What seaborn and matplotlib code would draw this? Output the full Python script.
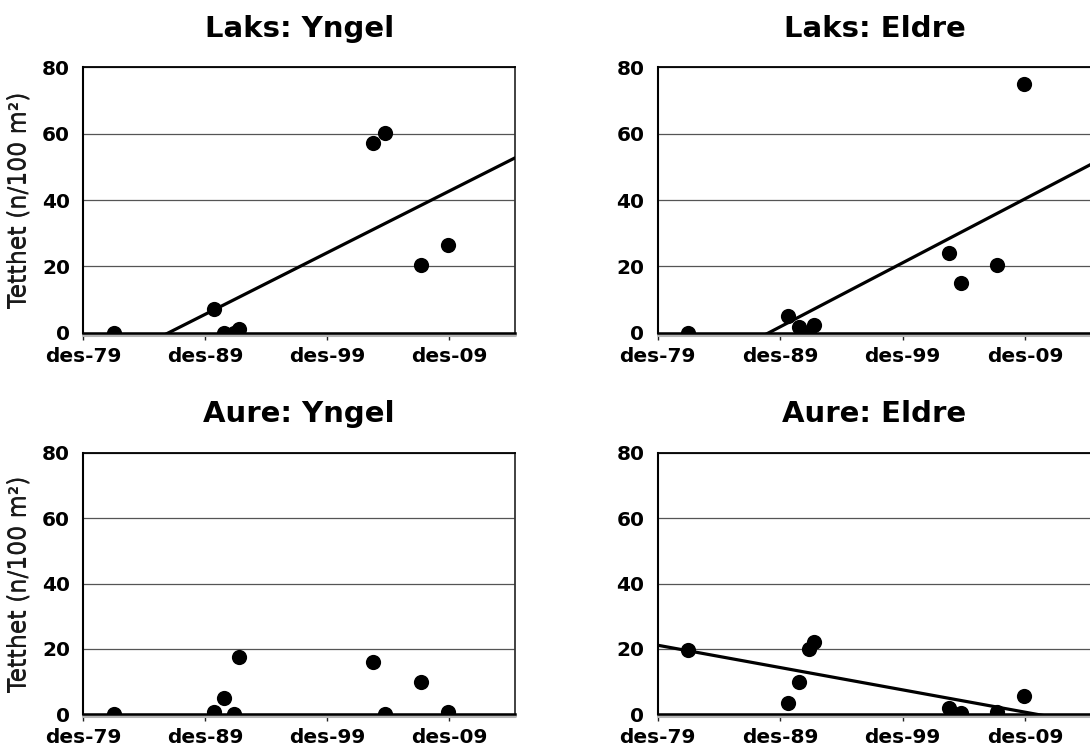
import numpy as np
import pandas as pd
import matplotlib
matplotlib.use("Agg")
import matplotlib.pyplot as plt
import matplotlib.transforms as mtransforms
import seaborn as sns

# ---- data ----
sample_years = [1982.4, 1990.6, 1991.5, 1992.3, 1992.7, 2003.7, 2004.7, 2007.6, 2009.8]
laks_yngel = [0, 7.0, 0, 0, 1.2, 57.3, 60.3, 20.3, 26.5]
laks_eldre = [0, 4.9, 1.6, 0.3, 2.4, 24.0, 14.9, 20.3, 75.0]
aure_yngel = [0, 0.7, 4.8, 0, 17.6, 15.8, 0, 9.7, 0.7]
aure_eldre = [19.7, 3.5, 9.8, 19.8, 22.1, 1.7, 0.2, 0.7, 5.5]

panel_titles = ["Laks: Yngel", "Laks: Eldre", "Aure: Yngel", "Aure: Eldre"]
panel_values = [laks_yngel, laks_eldre, aure_yngel, aure_eldre]
show_trend = [True, True, False, True]
x_tick_pos = [1979.92, 1989.92, 1999.92, 2009.92]
x_tick_labels = ["des-79", "des-89", "des-99", "des-09"]
y_ticks = [0, 20, 40, 60, 80]
y_label = "Tetthet (n/100 m²)"
x_range = (1979.92, 2015.33)
y_range = (0, 80)

sns.set_style("white")
plt.rcParams["font.family"] = ["DejaVu Sans"]
plt.rcParams["text.color"] = "black"
plt.rcParams["axes.labelcolor"] = "black"
plt.rcParams["xtick.color"] = "black"
plt.rcParams["ytick.color"] = "black"

W, H = 1090, 753
fig = plt.figure(figsize=(W / 100, H / 100), dpi=100)

# axes rectangles in pixels: (left, top, right, bottom)
rects = [
    (83.3, 67.5, 515.0, 332.7),
    (657.5, 67.5, 1091.5, 332.7),
    (83.3, 453.0, 515.0, 714.0),
    (657.5, 453.0, 1091.5, 714.0),
]

for i, (title, vals, trend) in enumerate(zip(panel_titles, panel_values, show_trend)):
    l, t, r, b = rects[i]
    ax = fig.add_axes([l / W, 1 - b / H, (r - l) / W, (b - t) / H])
    df = pd.DataFrame({"year": sample_years, "tetthet": vals})
    ax.set_xlim(*x_range)
    ax.set_ylim(*y_range)
    if trend:
        sns.regplot(data=df, x="year", y="tetthet", ax=ax, ci=None, truncate=False,
                    scatter_kws=dict(s=120, color="black", edgecolor="black",
                                     linewidths=0, alpha=1, zorder=4),
                    line_kws=dict(color="black", lw=2.3, zorder=3))
    else:
        sns.scatterplot(data=df, x="year", y="tetthet", ax=ax, s=120,
                        color="black", edgecolor="black", linewidth=0, zorder=4)
    ax.set_xlim(*x_range)
    ax.set_ylim(*y_range)

    # grid
    ax.set_yticks(y_ticks)
    ax.yaxis.grid(True, color="#555555", lw=0.9)
    ax.xaxis.grid(False)
    ax.set_axisbelow(True)

    ax.set_xticks(x_tick_pos)
    ax.set_xticklabels(x_tick_labels, fontsize=14.5, fontweight="bold", color="black")
    ax.set_yticklabels([str(v) for v in y_ticks], fontsize=14.5, fontweight="bold",
                       color="black")
    ax.tick_params(axis="x", direction="out", length=5, width=1.0, color="#222222",
                   pad=5, bottom=True)
    ax.tick_params(axis="y", length=0, pad=9.5, left=False)

    for side in ["left", "top", "right", "bottom"]:
        ax.spines[side].set_visible(True)
    ax.spines["left"].set_color("black")
    ax.spines["left"].set_linewidth(1.5)
    ax.spines["top"].set_color("black")
    ax.spines["top"].set_linewidth(1.3)
    ax.spines["right"].set_color("#333333")
    ax.spines["right"].set_linewidth(1.3)
    ax.spines["bottom"].set_color("black")
    ax.spines["bottom"].set_linewidth(1.8)
    ax.spines["bottom"].set_zorder(5)

    # grey shadow under the x axis line
    shadow = mtransforms.offset_copy(ax.get_yaxis_transform(), fig=fig, x=0, y=-2.2,
                                     units="dots")
    ax.plot([0, 1], [0, 0], transform=shadow, color="#b5b5b5", lw=2.2,
            clip_on=False, zorder=4.5)

    ax.set_xlabel("")
    ax.set_ylabel(y_label, fontsize=17, color="#1a1a1a")
    ax.yaxis.set_label_coords((31 - l) / (r - l), 0.5)
    ax.set_title(title, fontsize=21, fontweight="bold", pad=22, color="black")

fig.savefig("out.png", dpi=100)
